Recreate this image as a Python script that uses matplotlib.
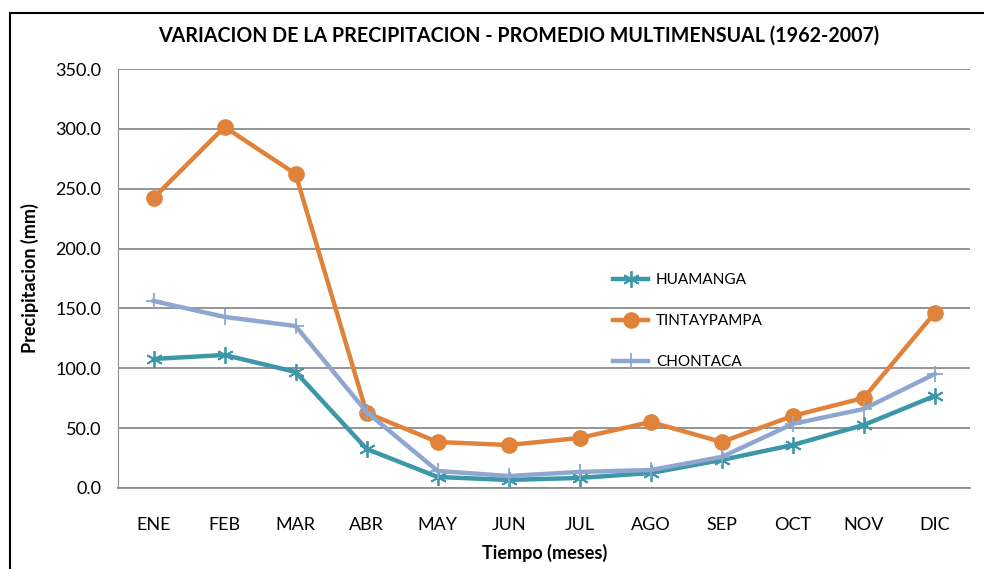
import matplotlib.pyplot as plt
from matplotlib.patches import Rectangle

meses = ["ENE", "FEB", "MAR", "ABR", "MAY", "JUN", "JUL", "AGO", "SEP", "OCT", "NOV", "DIC"]
huamanga = [107.8, 111.1, 96.9, 32.6, 9.2, 6.7, 8.4, 12.5, 23.4, 35.9, 52.6, 76.9]
tintaypampa = [242.3, 301.6, 262.3, 62.7, 38.4, 35.9, 41.8, 55.1, 38.4, 60.2, 75.2, 146.2]
chontaca = [156.2, 142.9, 135.3, 63.5, 14.2, 10.0, 13.4, 15.0, 25.9, 53.5, 66.0, 95.2]

plt.rcParams["font.family"] = ["Lato", "DejaVu Sans"]


def main():
    fig = plt.figure(figsize=(9.84, 5.69), dpi=100)
    ax = fig.add_axes([0.12, 0.1424, 0.866, 0.7363])
    x = range(len(meses))

    ax.plot(x, huamanga, color="#3C97A8", lw=3.2, marker=(6, 2, 0), ms=12, mew=1.3, label="HUAMANGA")
    ax.plot(x, tintaypampa, color="#E0823A", lw=3.2, marker="o", ms=11, label="TINTAYPAMPA")
    ax.plot(x, chontaca, color="#8FA6D1", lw=3.2, marker="+", ms=12, mew=1.3, label="CHONTACA")

    ax.set_xlim(-0.5, 11.5)
    ax.set_ylim(0, 350)
    ax.set_yticks(range(0, 351, 50))
    ax.set_yticklabels(["%.1f" % v for v in range(0, 351, 50)], fontsize=13)
    ax.set_xticks(list(x))
    ax.set_xticklabels(meses, fontsize=13)
    ax.tick_params(axis="x", length=0, pad=21)
    ax.tick_params(axis="y", length=0, pad=12)
    ax.grid(axis="y", color="#8c8c8c", lw=1.3)
    ax.set_axisbelow(True)
    for s in ["top", "right"]:
        ax.spines[s].set_visible(False)
    ax.spines["left"].set_color("#8c8c8c")
    ax.spines["bottom"].set_color("#8c8c8c")
    ax.spines["bottom"].set_linewidth(1.3)

    fig.text(0.527, 0.938, "VARIACION DE LA PRECIPITACION - PROMEDIO MULTIMENSUAL (1962-2007)",
             fontsize=14.1, fontweight="bold", ha="center", va="center")
    ax.set_xlabel("Tiempo (meses)", fontsize=13, fontweight="bold", labelpad=8)
    ax.set_ylabel("Precipitacion (mm)", fontsize=13, fontweight="bold", labelpad=12)

    ax.legend(loc="upper left", bbox_to_anchor=(0.565, 0.545), frameon=False,
              fontsize=11, labelspacing=1.75, handlelength=2.3, handletextpad=0.5)

    # marco del grafico
    fig.patches.append(Rectangle((0.0102, -0.1), 1.2, 1.077, transform=fig.transFigure,
                                 fill=False, edgecolor="black", lw=1.5))

    fig.savefig("out.png")


if __name__ == "__main__":
    main()
